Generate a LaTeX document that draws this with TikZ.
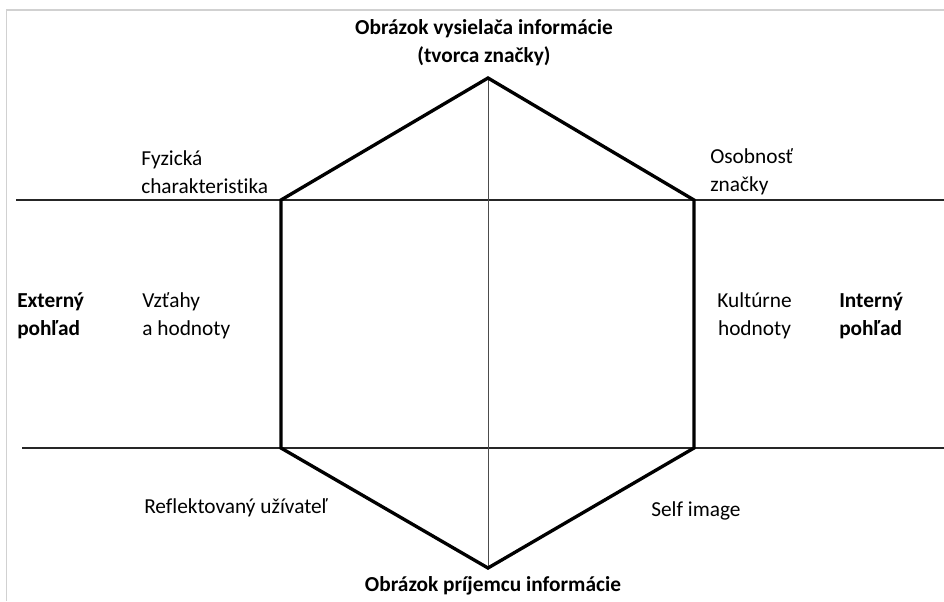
\documentclass[tikz,border=0pt]{standalone}
\usepackage{fontspec}
\setmainfont{Carlito}[Ligatures=NoCommon]
\usetikzlibrary{calc}

\begin{document}
\begin{tikzpicture}[x=0.75pt,y=-0.75pt,
  hexline/.style={line width=2.5pt, line join=miter},
  axisline/.style={line width=0.9pt, color=black!85},
  midline/.style={line width=0.7pt, color=black!70},
  lbl/.style={inner sep=0pt, align=left, font=\fontsize{16}{21}\selectfont},
  head/.style={inner sep=0pt, align=center, font=\fontsize{16}{21}\selectfont\bfseries}]

%% some definitions
\def\W{944} % picture width
\def\Ht{601} % picture height
\def\xl{281} % left side of hexagon
\def\xr{694} % right side of hexagon
\def\xm{488} % axis of hexagon
\def\yu{200} % upper horizontal line
\def\yd{448} % lower horizontal line

\useasboundingbox (0,0) rectangle (\W,\Ht);

% light frame of the picture
\draw[black!18, line width=1.4pt] (6.5,\Ht) -- (6.5,10) -- (\W,10);

%% corners of the hexagon
\coordinate (top) at (\xm,78);
\coordinate (ul) at (\xl,\yu);
\coordinate (ur) at (\xr,\yu);
\coordinate (ll) at (\xl,\yd);
\coordinate (lr) at (\xr,\yd);
\coordinate (bot) at (\xm,568);

%% ends of the horizontal lines
\coordinate (upW) at (16,\yu);
\coordinate (upE) at (\W,\yu);
\coordinate (dnW) at (22,\yd);
\coordinate (dnE) at (\W,\yd);

\draw[axisline] (upW) -- (upE);
\draw[axisline] (dnW) -- (dnE);
\draw[midline] (top) -- (bot);
\draw[hexline] (top) -- (ur) -- (lr) -- (bot) -- (ll) -- (ul) -- cycle;

%% labels
\node[head] (sender) at (484,43) {Obrázok vysielača informácie\\(tvorca značky)};
\node[head] (receiver) at (493,586) {Obrázok príjemcu informácie};

\node[lbl, anchor=west] (physical) at (141,172) {Fyzická\\charakteristika};
\node[lbl, anchor=west] (personality) at (710,172) {Osobnosť\\značky};

\node[lbl, anchor=west, font=\fontsize{16}{21}\selectfont\bfseries] (external) at (17,316) {Externý\\pohľad};
\node[lbl, anchor=west] (relations) at (142,316) {Vzťahy\\a hodnoty};
\node[lbl, anchor=west, align=center] (culture) at (717,316) {Kultúrne\\hodnoty};
\node[lbl, anchor=west, font=\fontsize{16}{21}\selectfont\bfseries] (internal) at (839,316) {Interný\\pohľad};

\node[lbl, anchor=west] (reflected) at (144,508) {Reflektovaný užívateľ};
\node[lbl, anchor=west] (selfimg) at (651,511) {Self image};

\end{tikzpicture}
\end{document}
